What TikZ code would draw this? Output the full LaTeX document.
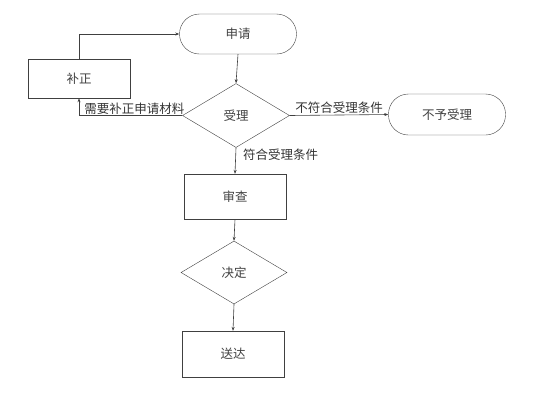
\documentclass[tikz,border=0pt]{standalone}
\usepackage{fontspec}
\setmainfont{Noto Sans CJK SC}
\usetikzlibrary{shapes.geometric,arrows.meta}

\begin{document}
\begin{tikzpicture}[x=1pt,y=-1pt,>={Stealth[length=4pt,width=3pt]},
	boite/.style={draw=black!75,rectangle,minimum width=102pt,minimum height=40pt,font=\fontsize{12.5}{14}\selectfont,text=black!75},
	arrondi/.style={boite,rounded corners=20pt,minimum width=117pt},
	losange/.style={draw=black!75,diamond,inner sep=0pt,minimum width=107pt,minimum height=64pt,font=\fontsize{12.5}{14}\selectfont,text=black!75},
	etiq/.style={font=\fontsize{12.5}{14}\selectfont,text=black!80,inner sep=1pt}]
			          %cadre de l'image
			          \useasboundingbox (0,0) rectangle (554,416);
			          %etapes de la procedure
			          \node[arrondi](demande) at (238,34) {申请};
			          \node[boite,minimum height=39pt](correction) at (79,78.5) {补正};
			          \node[losange](acceptation) at (236,115.5) {受理};
			          \node[arrondi,minimum height=41pt](refus) at (447,114.5) {不予受理};
			          \node[boite,minimum height=45pt](examen) at (235,196.5) {审查};
			          \node[losange,minimum width=106pt,minimum height=63pt](decision) at (234,272.5) {决定};
			          \node[boite,minimum height=46pt](remise) at (233,354) {送达};
			          %liaisons
			          \draw[->,black!75,line width=0.6pt] (correction.north) |- (demande.west);
			          \draw[->,black!75,line width=0.6pt] (demande.south) -- (acceptation.north);
			          \draw[->,black!75,line width=0.6pt] (acceptation.west) -| node[pos=0.5,anchor=south west,etiq,xshift=4pt] {需要补正申请材料} (correction.south);
			          \draw[->,black!75,line width=0.6pt] (acceptation.east) --node[above,etiq] {不符合受理条件} (refus.west);
			          \draw[->,black!75,line width=0.6pt] (acceptation.south) --node[pos=0.25,right,etiq,xshift=6pt] {符合受理条件} (examen.north);
			          \draw[->,black!75,line width=0.6pt] (examen.south) -- (decision.north);
			          \draw[->,black!75,line width=0.6pt] (decision.south) -- (remise.north);
				  \end{tikzpicture}
\end{document}
